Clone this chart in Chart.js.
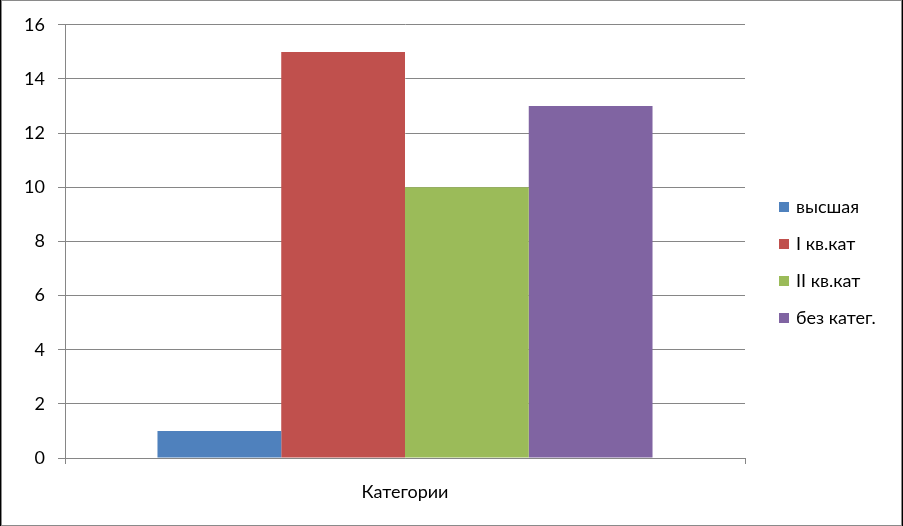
<!DOCTYPE html>
<html>
<head>
<meta charset="utf-8">
<script src="https://cdn.jsdelivr.net/npm/chart.js@4"></script>
<style>
  html, body { margin: 0; padding: 0; background: #000; }
  #box {
    position: absolute; left: 1px; top: 0;
    width: 899px; height: 524px;
    border: 1px solid #8a8a8a; background: #fff;
  }
  canvas { display: block; }
</style>
</head>
<body>
<div id="box"><canvas id="chart" width="899" height="524"></canvas></div>
<script>
const categories = ['Категории'];
const seriesNames = ['высшая', 'I кв.кат', 'II кв.кат', 'без катег.'];
const seriesValues = [[1], [15], [10], [13]];
const seriesColors = ['#4F81BD', '#C0504D', '#9BBB59', '#8064A2'];
const yTicks = [0, 2, 4, 6, 8, 10, 12, 14, 16];

const FONT = 'Lato, "Open Sans", sans-serif';
const GRID = '#868686';

// legend drawn by hand to sit like the Excel one
const sideLegend = {
    id: 'sideLegend',
    afterDraw(chart) {
        const ctx = chart.ctx;
        const x = chart.chartArea.right + 34;
        let y = 206;
        ctx.save();
        ctx.font = '18px ' + FONT;
        ctx.textBaseline = 'middle';
        chart.data.datasets.forEach(ds => {
            ctx.fillStyle = ds.backgroundColor;
            ctx.fillRect(x, y - 5, 10, 10);
            ctx.fillStyle = '#000';
            ctx.fillText(ds.label, x + 17, y);
            y += 37;
        });
        ctx.restore();
    }
};

new Chart(document.getElementById('chart'), {
    type: 'bar',
    data: {
        labels: categories,
        datasets: seriesNames.map((name, i) => ({
            label: name,
            data: seriesValues[i],
            backgroundColor: seriesColors[i],
            borderWidth: 0
        }))
    },
    options: {
        responsive: false,
        animation: false,
        layout: { padding: { top: 23, right: 156, left: 0, bottom: 0 } },
        categoryPercentage: 0.728,
        barPercentage: 1,
        plugins: {
            legend: { display: false },
            tooltip: { enabled: false }
        },
        scales: {
            x: {
                offset: true,
                grid: { offset: true, drawOnChartArea: false, drawTicks: true, tickLength: 6, color: GRID },
                border: { display: true, color: GRID },
                ticks: { color: '#000', font: { family: FONT, size: 18 }, padding: 17 },
                afterFit(scale) { scale.height = 67; }
            },
            y: {
                min: 0,
                max: 16,
                afterBuildTicks(scale) { scale.ticks = yTicks.map(v => ({ value: v })); },
                grid: { color: GRID, tickLength: 7 },
                border: { display: true, color: GRID },
                ticks: { color: '#000', font: { family: FONT, size: 18 }, padding: 13 },
                afterFit(scale) { scale.width = 63; }
            }
        }
    },
    plugins: [sideLegend]
});
</script>
</body>
</html>
